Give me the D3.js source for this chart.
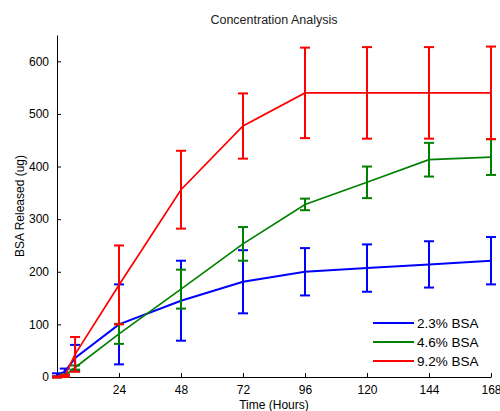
<!DOCTYPE html>
<html>
<head>
<meta charset="utf-8">
<script src="https://cdn.jsdelivr.net/npm/d3@7/dist/d3.min.js"></script>
<style>
  body { margin: 0; background: #fff; }
  svg { display: block; font-family: "Liberation Sans", Arial, sans-serif; }
</style>
</head>
<body>
<svg id="chart" width="500" height="411"></svg>
<script>
const times = [0, 3, 7, 24, 48, 72, 96, 120, 144, 168];
const seriesNames = ["2.3% BSA", "4.6% BSA", "9.2% BSA"];
const seriesColors = ["#0000ff", "#008000", "#ff0000"];
const blueMean = [4, 10, 36, 100, 145, 181, 200, 207, 214, 221];
const blueErr  = [3, 6, 25, 76, 76, 60, 45, 45, 44, 45];
const greenMean = [0, 3, 18, 82, 167, 253, 328, 370, 413, 418];
const greenErr  = [1, 2, 4, 19, 37, 32, 11, 30, 32, 34];
const redMean = [0, 2, 43, 175, 356, 477, 540, 540, 540, 540];
const redErr  = [1, 2, 33, 75, 74, 62, 86, 87, 87, 88];
const xTicks = [24, 48, 72, 96, 120, 144, 168];
const yTicks = [0, 100, 200, 300, 400, 500, 600];

const series = [
  { name: seriesNames[0], color: seriesColors[0], mean: blueMean, err: blueErr, w: 2 },
  { name: seriesNames[1], color: seriesColors[1], mean: greenMean, err: greenErr, w: 1.7 },
  { name: seriesNames[2], color: seriesColors[2], mean: redMean, err: redErr, w: 1.7 }
];

const svg = d3.select("#chart");
const L = 57, R = 491, T = 35, B = 377;
const x = d3.scaleLinear().domain([0, 168]).range([L, R]);
const y = d3.scaleLinear().domain([0, 650]).range([B, T]);

// axes
const xAxis = d3.axisBottom(x).tickValues(xTicks).tickSize(-4).tickPadding(8).tickSizeOuter(0);
const gx = svg.append("g").attr("transform", `translate(0,${B})`).call(xAxis);
const yAxis = d3.axisLeft(y).tickValues(yTicks).tickSize(-4).tickPadding(8).tickSizeOuter(0);
const gy = svg.append("g").attr("transform", `translate(${L},0)`).call(yAxis);
[gx, gy].forEach(g => {
  g.selectAll("path").attr("stroke", "#000").attr("stroke-width", 1);
  g.selectAll("line").attr("stroke", "#000");
  g.selectAll("text").attr("font-size", 12).attr("fill", "#000")
    .attr("font-family", "Liberation Sans, Arial, sans-serif");
});

const plot = svg.append("g");
const line = d3.line().x((d, i) => x(times[i])).y(d => y(d));
series.forEach(s => {
  const g = plot.append("g");
  g.append("path").datum(s.mean).attr("d", line)
    .attr("fill", "none").attr("stroke", s.color).attr("stroke-width", s.w);
  s.mean.forEach((m, i) => {
    const cx = x(times[i]);
    g.append("line").attr("x1", cx).attr("x2", cx)
      .attr("y1", y(m + s.err[i])).attr("y2", y(m - s.err[i]))
      .attr("stroke", s.color).attr("stroke-width", 2);
    [m + s.err[i], m - s.err[i]].forEach(v => {
      g.append("line").attr("x1", cx - 5).attr("x2", cx + 5).attr("y1", y(v)).attr("y2", y(v))
        .attr("stroke", s.color).attr("stroke-width", 2);
    });
  });
});

// title and labels
svg.append("text").attr("x", (L + R) / 2).attr("y", 24).attr("text-anchor", "middle")
  .attr("font-size", 12.5).attr("fill", "#222").text("Concentration Analysis");
svg.append("text").attr("x", (L + R) / 2).attr("y", 409).attr("text-anchor", "middle")
  .attr("font-size", 12).attr("fill", "#000").text("Time (Hours)");
svg.append("text").attr("transform", `translate(24,${(T + B) / 2}) rotate(-90)`)
  .attr("text-anchor", "middle").attr("font-size", 12).attr("fill", "#000").text("BSA Released (ug)");

// legend
series.forEach((s, i) => {
  const ly = 323 + i * 19;
  svg.append("line").attr("x1", 373).attr("x2", 414).attr("y1", ly).attr("y2", ly)
    .attr("stroke", s.color).attr("stroke-width", 2);
  svg.append("text").attr("x", 417).attr("y", ly + 5).attr("font-size", 13.5)
    .attr("fill", "#000").text(s.name);
});
</script>
</body>
</html>
